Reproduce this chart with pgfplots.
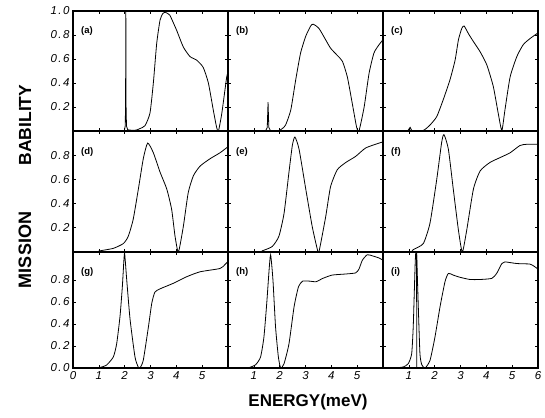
\documentclass[border=0pt]{standalone}
\usepackage{fontspec}
\setmainfont{Liberation Sans}
\setsansfont{Liberation Sans}
\newfontfamily\tickfont[LetterSpace=12]{Liberation Sans}
\usepackage{pgfplots}
\pgfplotsset{compat=1.18}
\pgfplotsset{
  panel/.style={
    scale only axis, width=155pt,
    xmin=0, xmax=6, ymin=0, ymax=1,
    anchor=south west,
    axis line style={line width=1.1pt},
    tick style={black, line width=0.6pt},
    major tick length=3pt, tick align=inside,
    xtick={1,2,3,4,5}, xticklabels={},
    ytick={0.2,0.4,0.6,0.8}, yticklabels={},
    ticklabel style={font=\tickfont\itshape\fontsize{11.5}{11.5}\selectfont},
    cycle list={{black, line width=0.8pt, mark=none}},
    clip=true,
  },
  curve/.style={black, line width=0.8pt, mark=none, smooth, tension=0.35},
  spike/.style={black, line width=0.8pt, mark=none},
}
\newcommand{\plab}[1]{\node[anchor=west, font=\sffamily\bfseries\fontsize{9.5}{9.5}\selectfont] at (rel axis cs:0.03,0.83) {(#1)};}
\begin{document}
\begin{tikzpicture}
\path[use as bounding box] (0pt,0pt) rectangle (545pt,417pt);

% ---------- row 1 ----------
\begin{axis}[panel, at={(73pt,286pt)}, height=120pt,
  ytick={0.2,0.4,0.6,0.8,1.0}, yticklabels={\textit{0.2},\textit{0.4},\textit{0.6},\textit{0.8},\textit{1.0}}]
\addplot[spike] coordinates {(1.99,0.005)(2.02,0.04)(2.035,0.2)(2.045,1.0)(2.055,0.2)(2.07,0.04)(2.12,0.01)};
\addplot[curve] coordinates {(0,0)(1.99,0.003)(2.12,0.01)(2.3,0.005)(2.45,0.008)(2.59,0.02)(2.79,0.045)(2.98,0.15)(3.11,0.40)(3.24,0.73)(3.37,0.925)(3.48,0.98)(3.56,0.99)(3.66,0.98)(3.75,0.965)(4.01,0.84)(4.27,0.70)(4.53,0.62)(4.79,0.59)(5.04,0.53)(5.24,0.40)(5.43,0.175)(5.56,0.03)(5.63,0.0)(5.76,0.147)(5.95,0.45)(6.0,0.48)};
\plab{a}
\end{axis}

\begin{axis}[panel, at={(228pt,286pt)}, height=120pt]
\addplot[spike] coordinates {(1.45,0.0)(1.52,0.03)(1.55,0.24)(1.58,0.03)(1.65,0.0)};
\addplot[curve] coordinates {(0,0)(1.45,0.0)(1.65,0.0)(1.97,0.005)(2.1,0.02)(2.23,0.05)(2.43,0.175)(2.62,0.425)(2.81,0.65)(3.01,0.79)(3.20,0.875)(3.30,0.89)(3.52,0.855)(3.78,0.76)(3.97,0.69)(4.23,0.63)(4.43,0.58)(4.62,0.45)(4.81,0.23)(4.98,0.03)(5.07,0.0)(5.27,0.2)(5.46,0.48)(5.65,0.65)(5.85,0.72)(6.0,0.76)};
\plab{b}
\end{axis}

\begin{axis}[panel, at={(383pt,286pt)}, height=120pt]
\addplot[spike] coordinates {(0.95,0.0)(1.05,0.03)(1.12,0.0)};
\addplot[curve] coordinates {(0,0)(0.95,0.0)(1.12,0.0)(1.56,0.005)(1.82,0.05)(2.08,0.12)(2.33,0.26)(2.59,0.425)(2.79,0.59)(2.92,0.76)(3.05,0.855)(3.14,0.875)(3.31,0.81)(3.50,0.745)(3.76,0.66)(4.02,0.55)(4.27,0.37)(4.46,0.147)(4.60,0.005)(4.72,0.175)(4.92,0.45)(5.18,0.62)(5.43,0.72)(5.69,0.77)(5.95,0.81)(6.0,0.815)};
\plab{c}
\end{axis}

% ---------- row 2 ----------
\begin{axis}[panel, at={(73pt,165pt)}, height=121pt,
  yticklabels={\textit{0.2},\textit{0.4},\textit{0.6},\textit{0.8}}]
\addplot[curve] coordinates {(0,0)(0.9,0.0)(1.05,0.01)(1.56,0.03)(1.95,0.07)(2.14,0.13)(2.33,0.27)(2.53,0.52)(2.72,0.77)(2.89,0.90)(3.11,0.82)(3.37,0.66)(3.63,0.52)(3.82,0.35)(3.95,0.13)(4.08,0.0)(4.27,0.21)(4.46,0.49)(4.66,0.63)(4.92,0.71)(5.30,0.77)(5.69,0.82)(6.0,0.87)};
\plab{d}
\end{axis}

\begin{axis}[panel, at={(228pt,165pt)}, height=121pt]
\addplot[curve] coordinates {(0,0)(1.2,0.0)(1.33,0.01)(1.71,0.045)(1.97,0.13)(2.17,0.32)(2.36,0.66)(2.49,0.88)(2.59,0.95)(2.75,0.85)(3.01,0.52)(3.26,0.21)(3.46,0.02)(3.52,0.0)(3.78,0.29)(3.97,0.54)(4.23,0.68)(4.56,0.74)(4.94,0.79)(5.33,0.86)(5.85,0.90)(6.0,0.91)};
\plab{e}
\end{axis}

\begin{axis}[panel, at={(383pt,165pt)}, height=121pt]
\addplot[curve] coordinates {(0,0)(1.05,0.0)(1.17,0.02)(1.56,0.07)(1.82,0.24)(2.08,0.6)(2.27,0.905)(2.36,0.97)(2.53,0.85)(2.72,0.52)(2.92,0.18)(3.07,0.0)(3.24,0.18)(3.50,0.52)(3.76,0.67)(4.14,0.74)(4.53,0.78)(4.92,0.82)(5.30,0.88)(5.56,0.89)(6.0,0.89)};
\plab{f}
\end{axis}

% ---------- row 3 ----------
\begin{axis}[panel, at={(73pt,49pt)}, height=116pt, ymax=1.055,
  ytick={0,0.2,0.4,0.6,0.8}, yticklabels={\textit{0.0},\textit{0.2},\textit{0.4},\textit{0.6},\textit{0.8}},
  xtick={0,1,2,3,4,5}, xticklabels={\textit{0},\textit{1},\textit{2},\textit{3},\textit{4},\textit{5}}]
\addplot[curve] coordinates {(0,0)(0.9,0.0)(1.05,0.005)(1.30,0.027)(1.56,0.10)(1.69,0.22)(1.82,0.47)(1.91,0.74)(1.97,0.98)(2.0,1.04)(2.08,0.8)(2.21,0.44)(2.40,0.10)(2.53,0.006)(2.59,0.0)(2.72,0.07)(2.92,0.375)(3.05,0.59)(3.17,0.69)(3.37,0.72)(3.88,0.77)(4.40,0.83)(4.92,0.875)(5.69,0.905)(5.88,0.94)(6.0,0.97)};
\plab{g}
\end{axis}

\begin{axis}[panel, at={(228pt,49pt)}, height=116pt, ymax=1.055,
  xticklabels={\textit{1},\textit{2},\textit{3},\textit{4},\textit{5}}]
\addplot[curve] coordinates {(0,0)(0.7,0.0)(0.81,0.003)(1.07,0.03)(1.26,0.1)(1.39,0.28)(1.50,0.59)(1.59,0.89)(1.65,1.03)(1.74,0.8)(1.84,0.375)(1.95,0.10)(2.04,0.0)(2.17,0.04)(2.36,0.22)(2.56,0.56)(2.73,0.74)(2.89,0.79)(3.15,0.79)(3.41,0.785)(3.67,0.815)(4.03,0.845)(4.56,0.855)(4.94,0.865)(5.07,0.9)(5.20,0.98)(5.39,1.03)(5.59,1.02)(5.85,1.0)(6.0,0.98)};
\plab{h}
\end{axis}

\begin{axis}[panel, at={(383pt,49pt)}, height=116pt, ymax=1.055,
  xtick={1,2,3,4,5,6}, xticklabels={\textit{1},\textit{2},\textit{3},\textit{4},\textit{5},\textit{6}}]
\addplot[spike] coordinates {(1.30,1.1)(1.305,0.0)};
\addplot[curve] coordinates {(0,0)(0.4,0.0)(0.53,0.002)(0.79,0.01)(0.98,0.04)(1.11,0.13)(1.17,0.375)(1.21,0.68)(1.25,0.98)(1.29,1.1)(1.33,0.83)(1.37,0.53)(1.43,0.13)(1.50,0.03)(1.63,0.0)(1.82,0.07)(2.01,0.28)(2.21,0.56)(2.40,0.785)(2.53,0.86)(2.72,0.845)(2.98,0.825)(3.37,0.805)(3.76,0.805)(4.21,0.815)(4.40,0.86)(4.60,0.95)(4.72,0.965)(5.18,0.95)(5.69,0.945)(5.88,0.92)(6.0,0.9)};
\plab{i}
\end{axis}

% ---------- labels ----------
\node[rotate=90, font=\sffamily\bfseries\fontsize{17.5}{17.5}\selectfont] at (25pt,292pt) {BABILITY};
\node[rotate=90, font=\sffamily\bfseries\fontsize{18}{18}\selectfont] at (25pt,167pt) {MISSION};
\node[font=\sffamily\bfseries\fontsize{17}{17}\selectfont] at (308pt,15pt) {ENERGY(meV)};
\end{tikzpicture}
\end{document}
